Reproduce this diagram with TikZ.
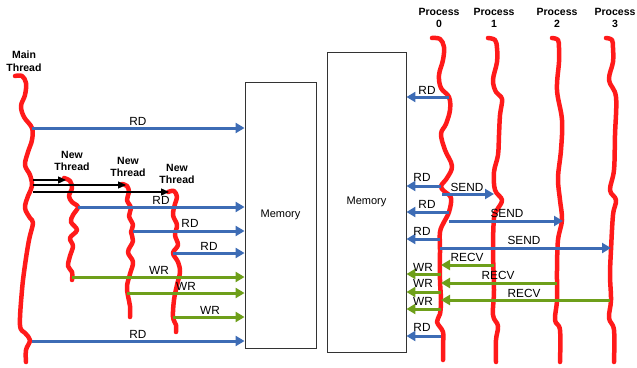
\documentclass[tikz,border=0pt]{standalone}
\usepackage{fontspec}
\setmainfont{Liberation Sans}
\usetikzlibrary{arrows.meta}
\definecolor{arrblue}{HTML}{3D6CB5}
\definecolor{arrgreen}{HTML}{6E9F1A}
\definecolor{thr}{HTML}{FF1A1A}
\begin{document}
\begin{tikzpicture}[x=1pt,y=-1pt,
  thread/.style={draw=thr,line width=4.5pt,line cap=round,line join=round},
  rdarr/.style={draw=arrblue,line width=3pt,-{Triangle[length=9pt,width=10pt]}},
  wrarr/.style={draw=arrgreen,line width=3pt,-{Triangle[length=9pt,width=10pt]}},
  spawn/.style={draw=black,line width=1.3pt,-{Triangle[length=8pt,width=7pt]}},
  lbl/.style={font=\fontsize{11.8}{12}\selectfont,inner sep=0pt},
  tlbl/.style={font=\bfseries\fontsize{10.5}{12.5}\selectfont,align=center,inner sep=0pt},
  mem/.style={draw=black!80,line width=0.9pt,inner sep=0pt,font=\fontsize{11}{12}\selectfont}]
\useasboundingbox (0,0) rectangle (637,367);

% memory boxes
\node[mem,minimum width=71pt,minimum height=266pt] (mem1) at (280.5,215) {Memory};
\node[mem,minimum width=79pt,minimum height=300pt] (mem2) at (366.5,202) {Memory};

% thread labels
\node[tlbl] (lmain) at (24,61) {Main\\Thread};
\node[tlbl] (lnt1) at (72,161) {New\\Thread};
\node[tlbl] (lnt2) at (128,167) {New\\Thread};
\node[tlbl] (lnt3) at (177,174) {New\\Thread};
\node[tlbl] (lp0) at (439,18) {Process\\0};
\node[tlbl] (lp1) at (494,18) {Process\\1};
\node[tlbl] (lp2) at (557,18) {Process\\2};
\node[tlbl] (lp3) at (615,18) {Process\\3};

% threads (left)
\draw[thread] plot[smooth,tension=0.6] coordinates {(15,76) (22,76) (26,83) (25,95) (21,106) (24,117) (32,128) (32,140) (28,152) (25,165) (30,175) (32,186) (28,196) (25,208) (30,218) (33,223) (29,240) (25,265) (22,290) (20,325) (25,333) (30,340) (26,350) (26,362)};
\draw[thread] plot[smooth,tension=0.6] coordinates {(64,178) (70,181) (72,188) (69,196) (72,202) (78,207) (73,215) (71,222) (77,230) (70,238) (73,246) (70,256) (68,266) (72,272) (72,280)};
\draw[thread] plot[smooth,tension=0.6] coordinates {(122,184) (127,186) (129,192) (127,200) (131,208) (129,216) (133,225) (131,232) (133,241) (128,252) (133,262) (130,274) (127,286) (128,296) (130,306) (130,317)};
\draw[thread] plot[smooth,tension=0.6] coordinates {(168,192) (174,191) (177,197) (175,204) (173,215) (177,225) (175,235) (178,245) (173,253) (178,262) (180,272) (177,285) (174,300) (173,317) (176,325) (176,332)};

% processes (right)
\draw[thread] plot[smooth,tension=0.6] coordinates {(432,38) (440,39) (444,47) (443,60) (439,75) (441,88) (449,97) (450,110) (446,124) (441,134) (445,150) (452,166) (447,178) (441,186) (444,191) (451,198) (449,212) (444,222) (440,232) (440,250) (440,280) (441,300) (440,314) (437,322) (443,332) (443,345) (443,360)};
\draw[thread] plot[smooth,tension=0.6] coordinates {(488,38) (495,40) (497,48) (497,62) (493,80) (496,92) (502,99) (500,115) (499,135) (498,155) (494,172) (495,190) (502,200) (497,210) (494,218) (493,250) (494,290) (493,315) (498,326) (496,340) (496,362)};
\draw[thread] plot[smooth,tension=0.6] coordinates {(552,38) (558,40) (559,48) (559,62) (557,90) (562,120) (561,150) (558,178) (560,200) (562,220) (558,240) (557,270) (557,300) (555,320) (560,330) (560,362)};
\draw[thread] plot[smooth,tension=0.6] coordinates {(606,38) (612,40) (613,48) (613,62) (609,80) (616,97) (615,135) (614,170) (610,190) (616,200) (613,215) (611,250) (610,275) (611,300) (609,318) (614,330) (614,362)};

% start points on the left threads
\coordinate (m1) at (32,128);
\coordinate (m2) at (32,341);
\coordinate (s1) at (33,180);
\coordinate (s2) at (33,185);
\coordinate (s3) at (33,192);
\coordinate (e1) at (66,180);
\coordinate (e2) at (126,185);
\coordinate (e3) at (169,192);
\coordinate (t1r) at (78,207);
\coordinate (t2r) at (133,231);
\coordinate (t3r) at (173,253);
\coordinate (t1w) at (72,277);
\coordinate (t2w) at (127,293);
\coordinate (t3w) at (173,317);

\draw[spawn] (s1) -- (e1);
\draw[spawn] (s2) -- (e2);
\draw[spawn] (s3) -- (e3);

\draw[rdarr] (m1) -- (m1 -| mem1.west);
\draw[rdarr] (t1r) -- (t1r -| mem1.west);
\draw[rdarr] (t2r) -- (t2r -| mem1.west);
\draw[rdarr] (t3r) -- (t3r -| mem1.west);
\draw[wrarr] (t1w) -- (t1w -| mem1.west);
\draw[wrarr] (t2w) -- (t2w -| mem1.west);
\draw[wrarr] (t3w) -- (t3w -| mem1.west);
\draw[rdarr] (m2) -- (m2 -| mem1.west);

\node[lbl] (lr1) at (138,121) {RD};
\node[lbl] (lr2) at (161,200) {RD};
\node[lbl] (lr3) at (190,223) {RD};
\node[lbl] (lr4) at (209,246) {RD};
\node[lbl] (lw1) at (159,270) {WR};
\node[lbl] (lw2) at (186,286) {WR};
\node[lbl] (lw3) at (210,310) {WR};
\node[lbl] (lr5) at (138,334) {RD};

% right side
\coordinate (p0a) at (449,97);
\coordinate (p0b) at (441,186);
\coordinate (p0c) at (442,194);
\coordinate (p0d) at (449,212);
\coordinate (p0e) at (449,221);
\coordinate (p0f) at (440,239);
\coordinate (p0g) at (440,248);
\coordinate (p0h) at (441,265);
\coordinate (p0i) at (441,274);
\coordinate (p0j) at (441,283);
\coordinate (p0k) at (441,292);
\coordinate (p0l) at (441,300);
\coordinate (p0m) at (441,309);
\coordinate (p0n) at (441,336);
\coordinate (p1s) at (494,194);
\coordinate (p2s) at (563,221);
\coordinate (p3s) at (611,248);
\coordinate (p1r) at (494,265);
\coordinate (p2r) at (557,283);
\coordinate (p3r) at (610,300);

\draw[rdarr] (p0a) -- (p0a -| mem2.east);
\draw[rdarr] (p0b) -- (p0b -| mem2.east);
\draw[rdarr] (p0c) -- (p1s);
\draw[rdarr] (p0d) -- (p0d -| mem2.east);
\draw[rdarr] (p0e) -- (p2s);
\draw[rdarr] (p0f) -- (p0f -| mem2.east);
\draw[rdarr] (p0g) -- (p3s);
\draw[wrarr] (p1r) -- (p0h);
\draw[wrarr] (p0i) -- (p0i -| mem2.east);
\draw[wrarr] (p2r) -- (p0j);
\draw[wrarr] (p0k) -- (p0k -| mem2.east);
\draw[wrarr] (p3r) -- (p0l);
\draw[wrarr] (p0m) -- (p0m -| mem2.east);
\draw[rdarr] (p0n) -- (p0n -| mem2.east);

\node[lbl] (rr1) at (427,90) {RD};
\node[lbl] (rr2) at (422,177) {RD};
\node[lbl] (rs1) at (467,187) {SEND};
\node[lbl] (rr3) at (427,204) {RD};
\node[lbl] (rs2) at (507,213) {SEND};
\node[lbl] (rr4) at (422,231) {RD};
\node[lbl] (rs3) at (524,240) {SEND};
\node[lbl] (rc1) at (467,257) {RECV};
\node[lbl] (rw1) at (423,267) {WR};
\node[lbl] (rc2) at (498,275) {RECV};
\node[lbl] (rw2) at (423,283) {WR};
\node[lbl] (rc3) at (524,293) {RECV};
\node[lbl] (rw3) at (423,301) {WR};
\node[lbl] (rr5) at (422,327) {RD};
\end{tikzpicture}
\end{document}
